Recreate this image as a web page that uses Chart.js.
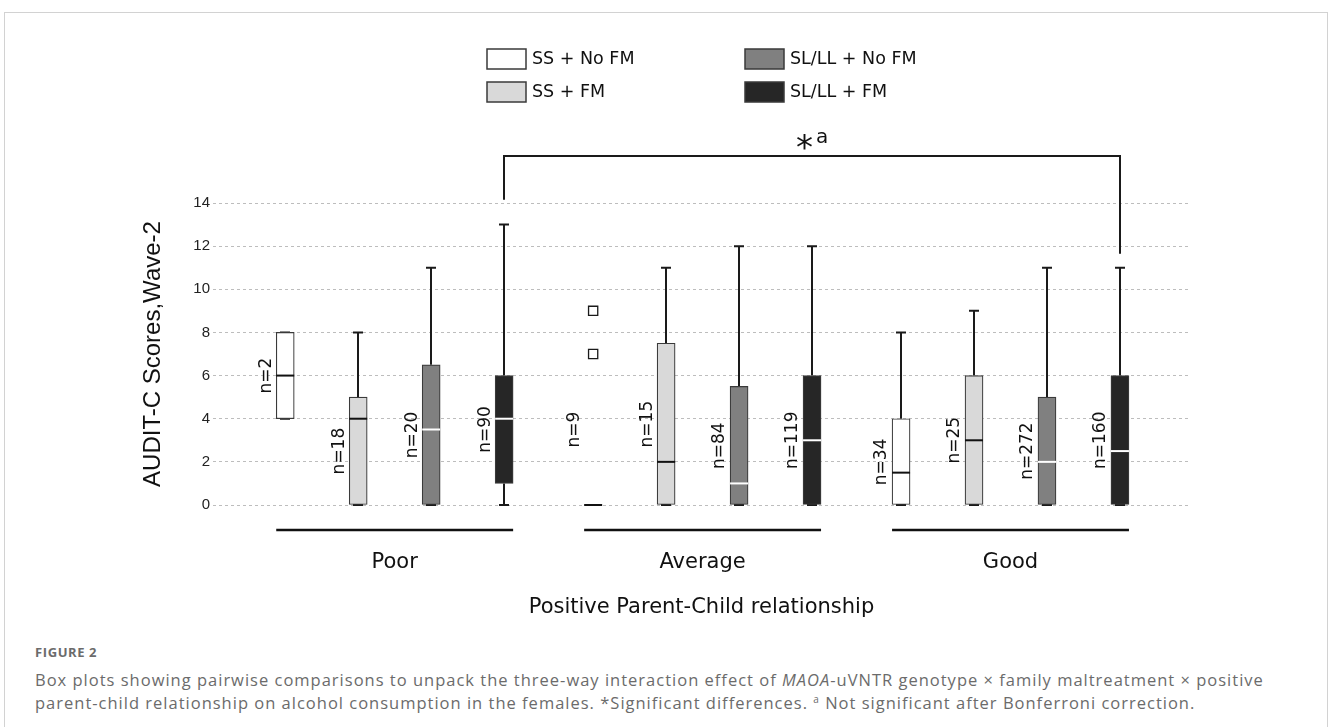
<!DOCTYPE html>
<html>
<head>
<meta charset="utf-8">
<script src="https://cdn.jsdelivr.net/npm/chart.js@4.4.1/dist/chart.umd.min.js"></script>
<style>
  html, body { margin: 0; padding: 0; background: #fff; }
  body { width: 1328px; height: 727px; position: relative; overflow: hidden; }
  #frame { position: absolute; left: 4px; top: 12px; width: 1324px; height: 760px;
           box-sizing: border-box; border: 1px solid #d2d2d2; }
  #wrap { position: absolute; left: 0; top: 0; width: 1328px; height: 630px; }
  #cap { position: absolute; left: 35px; top: 642px; width: 1285px;
         font-family: "Open Sans", sans-serif; color: #6b6b6b; }
  #cap .fig { font-size: 13px; font-weight: 700; line-height: 20px; letter-spacing: 0.6px; }
  #cap .txt { font-size: 16.5px; line-height: 23px; margin-top: 6px; letter-spacing: 1px; }
  #cap sup { font-size: 10px; line-height: 0; vertical-align: 6px; }
</style>
</head>
<body>
<div id="frame"></div>
<div id="wrap"><canvas id="chart"></canvas></div>
<div id="cap">
  <div class="fig">FIGURE 2</div>
  <div class="txt">Box plots showing pairwise comparisons to unpack the three-way interaction effect of <i>MAOA</i>-uVNTR genotype × family maltreatment × positive<br>parent-child relationship on alcohol consumption in the females. *Significant differences. <sup>a</sup> Not significant after Bonferroni correction.</div>
</div>
<script>
// categories
var groups = ["Poor", "Average", "Good"];
var seriesNames = ["SS + No FM", "SS + FM", "SL/LL + No FM", "SL/LL + FM"];
var yTicks = [0, 2, 4, 6, 8, 10, 12, 14];

// box plot values, one row per series, one value per group (Poor, Average, Good)
var whiskerLow  = [[4, 0, 0], [0, 0, 0], [0, 0, 0], [0, 0, 0]];
var q1          = [[4, 0, 0], [0, 0, 0], [0, 0, 0], [1, 0, 0]];
var median      = [[6, 0, 1.5], [4, 2, 3], [3.5, 1, 2], [4, 3, 2.5]];
var q3          = [[8, 0, 4], [5, 7.5, 6], [6.5, 5.5, 5], [6, 6, 6]];
var whiskerHigh = [[8, 0, 8], [8, 11, 9], [11, 12, 11], [13, 12, 11]];
var outliers    = [[[], [7, 9], []], [[], [], []], [[], [], []], [[], [], []]];
var nSizes      = [[2, 9, 34], [18, 15, 25], [20, 84, 272], [90, 119, 160]];

// significance bracket: Poor SL/LL+FM vs Good SL/LL+FM
var sigFrom = [0, 3], sigTo = [2, 3];
var sigTop = 16.2, sigLegEnds = [14.15, 11.65];

var fills = ["#ffffff", "#d9d9d9", "#808080", "#262626"];
var medianColors = ["#111111", "#111111", "#ffffff", "#ffffff"];
var GROUP_STEP = 4.22;
function pos(g, s) { return g * GROUP_STEP + s; }

var datasets = seriesNames.map(function (name, s) {
    return {
        type: "bar",
        label: name,
        data: groups.map(function (g, gi) {
            return { x: pos(gi, s), y: [q1[s][gi], q3[s][gi]] };
        }),
        backgroundColor: fills[s],
        borderColor: "#3a3a3a",
        borderWidth: 1.2,
        borderSkipped: false,
        barThickness: 18,
        grouped: false,
        order: 2
    };
});

var outlierPoints = [];
outliers.forEach(function (row, s) {
    row.forEach(function (vals, gi) {
        vals.forEach(function (v) { outlierPoints.push({ x: pos(gi, s), y: v }); });
    });
});
datasets.push({
    type: "scatter",
    label: "outliers",
    data: outlierPoints,
    pointStyle: "rect",
    pointRadius: 6.5,
    pointBackgroundColor: "#ffffff",
    pointBorderColor: "#1a1a1a",
    pointBorderWidth: 1.3,
    order: 1
});

var boxExtras = {
    id: "boxExtras",
    beforeDatasetsDraw: function (chart) {
        var ctx = chart.ctx, x = chart.scales.x, y = chart.scales.y;
        ctx.save();
        ctx.strokeStyle = "#1a1a1a";
        ctx.lineWidth = 2;
        seriesNames.forEach(function (n, s) {
            groups.forEach(function (g, gi) {
                var px = Math.round(x.getPixelForValue(pos(gi, s)));
                var lo = y.getPixelForValue(whiskerLow[s][gi]);
                var hi = y.getPixelForValue(whiskerHigh[s][gi]);
                var b = y.getPixelForValue(q1[s][gi]);
                var t = y.getPixelForValue(q3[s][gi]);
                ctx.beginPath();
                ctx.moveTo(px, t); ctx.lineTo(px, hi);
                ctx.moveTo(px, b); ctx.lineTo(px, lo);
                ctx.moveTo(px - 5, hi); ctx.lineTo(px + 5, hi);
                ctx.moveTo(px - 5, lo); ctx.lineTo(px + 5, lo);
                ctx.stroke();
            });
        });
        ctx.restore();
    },
    afterDatasetsDraw: function (chart) {
        var ctx = chart.ctx, x = chart.scales.x, y = chart.scales.y;
        ctx.save();
        // medians and n labels
        seriesNames.forEach(function (n, s) {
            groups.forEach(function (g, gi) {
                var px = x.getPixelForValue(pos(gi, s));
                var my = y.getPixelForValue(median[s][gi]);
                ctx.strokeStyle = medianColors[s];
                ctx.lineWidth = 2;
                ctx.beginPath();
                ctx.moveTo(px - 9, my); ctx.lineTo(px + 9, my);
                ctx.stroke();

                var mid = q3[s][gi] > q1[s][gi] ? (q1[s][gi] + q3[s][gi]) / 2
                    : (q1[s][gi] + Math.min.apply(null, outliers[s][gi].concat([whiskerHigh[s][gi] + 7]))) / 2;
                ctx.save();
                ctx.translate(px - 19, y.getPixelForValue(mid));
                ctx.rotate(-Math.PI / 2);
                ctx.fillStyle = "#111";
                ctx.font = "17px 'DejaVu Sans'";
                ctx.textAlign = "center";
                ctx.textBaseline = "middle";
                ctx.fillText("n=" + nSizes[s][gi], 0, 0);
                ctx.restore();
            });
        });
        // group underlines
        ctx.strokeStyle = "#111";
        ctx.lineWidth = 2.5;
        groups.forEach(function (g, gi) {
            var l = x.getPixelForValue(pos(gi, 0)) - 9;
            var r = x.getPixelForValue(pos(gi, seriesNames.length - 1)) + 9;
            var ly = chart.chartArea.bottom + 25;
            ctx.beginPath(); ctx.moveTo(l, ly); ctx.lineTo(r, ly); ctx.stroke();
        });
        // significance bracket
        var bx1 = Math.round(x.getPixelForValue(pos(sigFrom[0], sigFrom[1])));
        var bx2 = Math.round(x.getPixelForValue(pos(sigTo[0], sigTo[1])));
        var by = Math.round(y.getPixelForValue(sigTop));
        ctx.lineWidth = 2;
        ctx.strokeStyle = "#1a1a1a";
        ctx.beginPath();
        ctx.moveTo(bx1, y.getPixelForValue(sigLegEnds[0]));
        ctx.lineTo(bx1, by); ctx.lineTo(bx2, by);
        ctx.lineTo(bx2, y.getPixelForValue(sigLegEnds[1]));
        ctx.stroke();
        var cx = (bx1 + bx2) / 2;
        ctx.fillStyle = "#111";
        ctx.textBaseline = "alphabetic";
        ctx.textAlign = "right";
        ctx.font = "34px 'DejaVu Sans'";
        ctx.fillText("*", cx + 1, by + 3);
        ctx.textAlign = "left";
        ctx.font = "20px 'DejaVu Sans'";
        ctx.fillText("a", cx + 4, by - 13);
        ctx.restore();
    },
    afterDraw: function (chart) {
        var ctx = chart.ctx;
        ctx.save();
        seriesNames.forEach(function (name, s) {
            var col = Math.floor(s / 2), row = s % 2;
            var lx = 487 + col * 258, ly = 49 + row * 33;
            ctx.fillStyle = fills[s];
            ctx.fillRect(lx, ly, 39, 20);
            ctx.strokeStyle = "#3a3a3a";
            ctx.lineWidth = 1.5;
            ctx.strokeRect(lx, ly, 39, 20);
            ctx.fillStyle = "#111";
            ctx.font = "17.5px 'DejaVu Sans'";
            ctx.textAlign = "left";
            ctx.textBaseline = "middle";
            ctx.fillText(name, lx + 45, ly + 10);
        });
        ctx.restore();
    }
};

var ctx = document.getElementById("chart").getContext("2d");
var chart = new Chart(ctx, {
    data: { datasets: datasets },
    plugins: [boxExtras],
    options: {
        responsive: true,
        maintainAspectRatio: false,
        animation: false,
        layout: { padding: { left: 135, right: 138, top: 203, bottom: 5 } },
        plugins: {
            legend: { display: false },
            tooltip: { enabled: false }
        },
        scales: {
            x: {
                type: "linear",
                offset: false,
                min: -0.99,
                max: 12.4,
                grid: { display: false, offset: false },
                border: { display: false },
                afterBuildTicks: function (sc) {
                    sc.ticks = groups.map(function (g, i) { return { value: pos(i, 1.5) }; });
                },
                afterFit: function (sc) { sc.height = 120; },
                ticks: {
                    autoSkip: false,
                    maxRotation: 0,
                    padding: 37,
                    color: "#111",
                    font: { family: "DejaVu Sans", size: 21 },
                    callback: function (v, i) { return groups[i]; }
                },
                title: {
                    display: true,
                    text: "Positive Parent-Child relationship",
                    color: "#111",
                    font: { family: "DejaVu Sans", size: 21 },
                    padding: { top: 0, bottom: 5 }
                }
            },
            y: {
                min: 0,
                max: 14,
                afterBuildTicks: function (sc) {
                    sc.ticks = yTicks.map(function (v) { return { value: v }; });
                },
                afterFit: function (sc) { sc.width = 78; },
                grid: { color: "#bdbdbd", lineWidth: 1, drawTicks: false },
                border: { display: false, dash: [3, 3] },
                ticks: {
                    padding: 3,
                    color: "#222",
                    font: { family: "Liberation Sans", size: 15 }
                },
                title: {
                    display: true,
                    text: "AUDIT-C Scores,Wave-2",
                    color: "#111",
                    font: { family: "Liberation Sans", size: 24 },
                    padding: { top: 4, bottom: 0 }
                }
            }
        }
    }
});

// keep the plot area where the figure has it
var want = { left: 213, top: 203, right: 1190, bottom: 505 };
for (var k = 0; k < 2; k++) {
    var ca = chart.chartArea, pad = chart.options.layout.padding;
    pad.top += want.top - ca.top;
    pad.left += want.left - ca.left;
    pad.right += ca.right - want.right;
    pad.bottom += ca.bottom - want.bottom;
    chart.update();
}
</script>
</body>
</html>
